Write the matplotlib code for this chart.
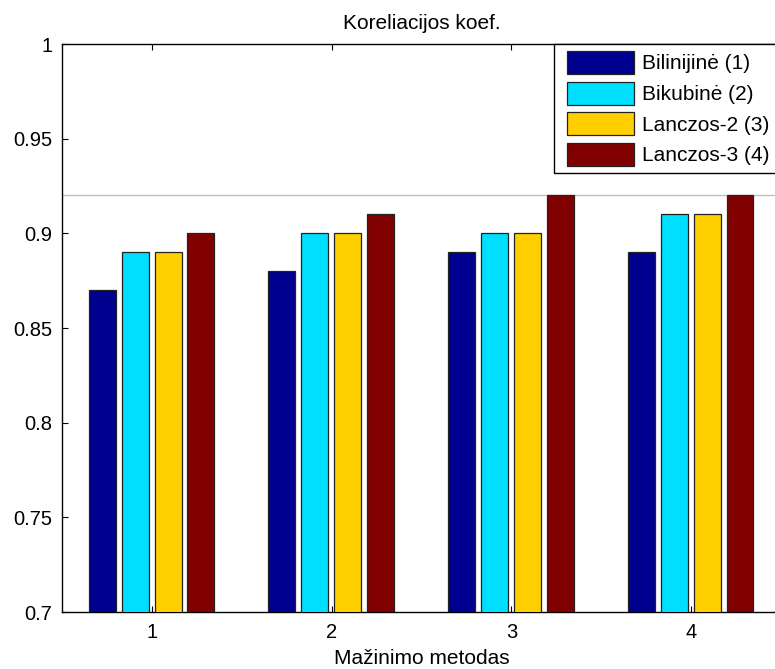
import matplotlib
matplotlib.use("Agg")
import matplotlib.pyplot as plt
from matplotlib.patches import Rectangle
from matplotlib.transforms import IdentityTransform
import numpy as np

plt.rcParams['font.family'] = ['Liberation Sans', 'DejaVu Sans']

groups = [1, 2, 3, 4]
series_names = ["Bilinijinė (1)", "Bikubinė (2)", "Lanczos-2 (3)", "Lanczos-3 (4)"]
bilinear = [0.87, 0.88, 0.89, 0.89]
bicubic = [0.89, 0.90, 0.90, 0.91]
lanczos2 = [0.89, 0.90, 0.90, 0.91]
lanczos3 = [0.90, 0.91, 0.92, 0.92]
series = [bilinear, bicubic, lanczos2, lanczos3]
colors = ["#00008F", "#00DFFF", "#FFCF00", "#800000"]
ref_line = 0.92

fig = plt.figure(figsize=(7.75, 6.69), dpi=100)
ax = fig.add_axes([62/775, 57/669, (781-62)/775, (612-44)/669])

offsets = [-0.277, -0.093, 0.09, 0.272]
width = 0.15
x = np.array(groups, dtype=float)
for vals, off, c, name in zip(series, offsets, colors, series_names):
    ax.bar(x + off, vals, width=width, color=c, edgecolor="#222222",
           linewidth=0.9, label=name, zorder=3)

ax.axhline(ref_line, color="#c0c0c0", linewidth=1.0, zorder=2)

ax.set_xlim(0.5, 4.5)
ax.set_ylim(0.7, 1.0)
ax.set_xticks(groups)
ax.set_yticks([0.7, 0.75, 0.8, 0.85, 0.9, 0.95, 1.0])
ax.set_yticklabels(["0.7", "0.75", "0.8", "0.85", "0.9", "0.95", "1"])
ax.tick_params(direction="in", length=4, width=0.8, top=True, right=True,
               labelsize=14.5)
ax.tick_params(axis="x", pad=8)
ax.tick_params(axis="y", pad=7)
for s in ax.spines.values():
    s.set_linewidth(1.0)
    s.set_color("black")

ax.set_title("Koreliacijos koef.", fontsize=15, pad=10.5)
ax.set_xlabel("Mažinimo metodas", fontsize=15, labelpad=5)

# legend content (frame drawn separately for MATLAB-like padding)
leg = ax.legend(loc="upper left", bbox_to_anchor=(0.7024, 0.9878), borderaxespad=0,
                fontsize=15, handlelength=3.2, handleheight=1.32,
                labelspacing=0.37, handletextpad=0.4, borderpad=0,
                frameon=False)
leg.set_zorder(6)
for h in leg.legend_handles:
    h.set_edgecolor("#222222")
    h.set_linewidth(0.9)

fig.canvas.draw()
renderer = fig.canvas.get_renderer()
bb = leg.get_window_extent(renderer)
axbb = ax.get_window_extent(renderer)
left = bb.x0 - 13
bottom = bb.y0 - 7.3
top = axbb.y1
frame = Rectangle((left, bottom), axbb.x1 + 5 - left, top - bottom,
                  transform=IdentityTransform(), facecolor="white",
                  edgecolor="black", linewidth=1.0, zorder=5.5, clip_on=False)
ax.add_artist(frame)

fig.savefig("out.png", dpi=100)
